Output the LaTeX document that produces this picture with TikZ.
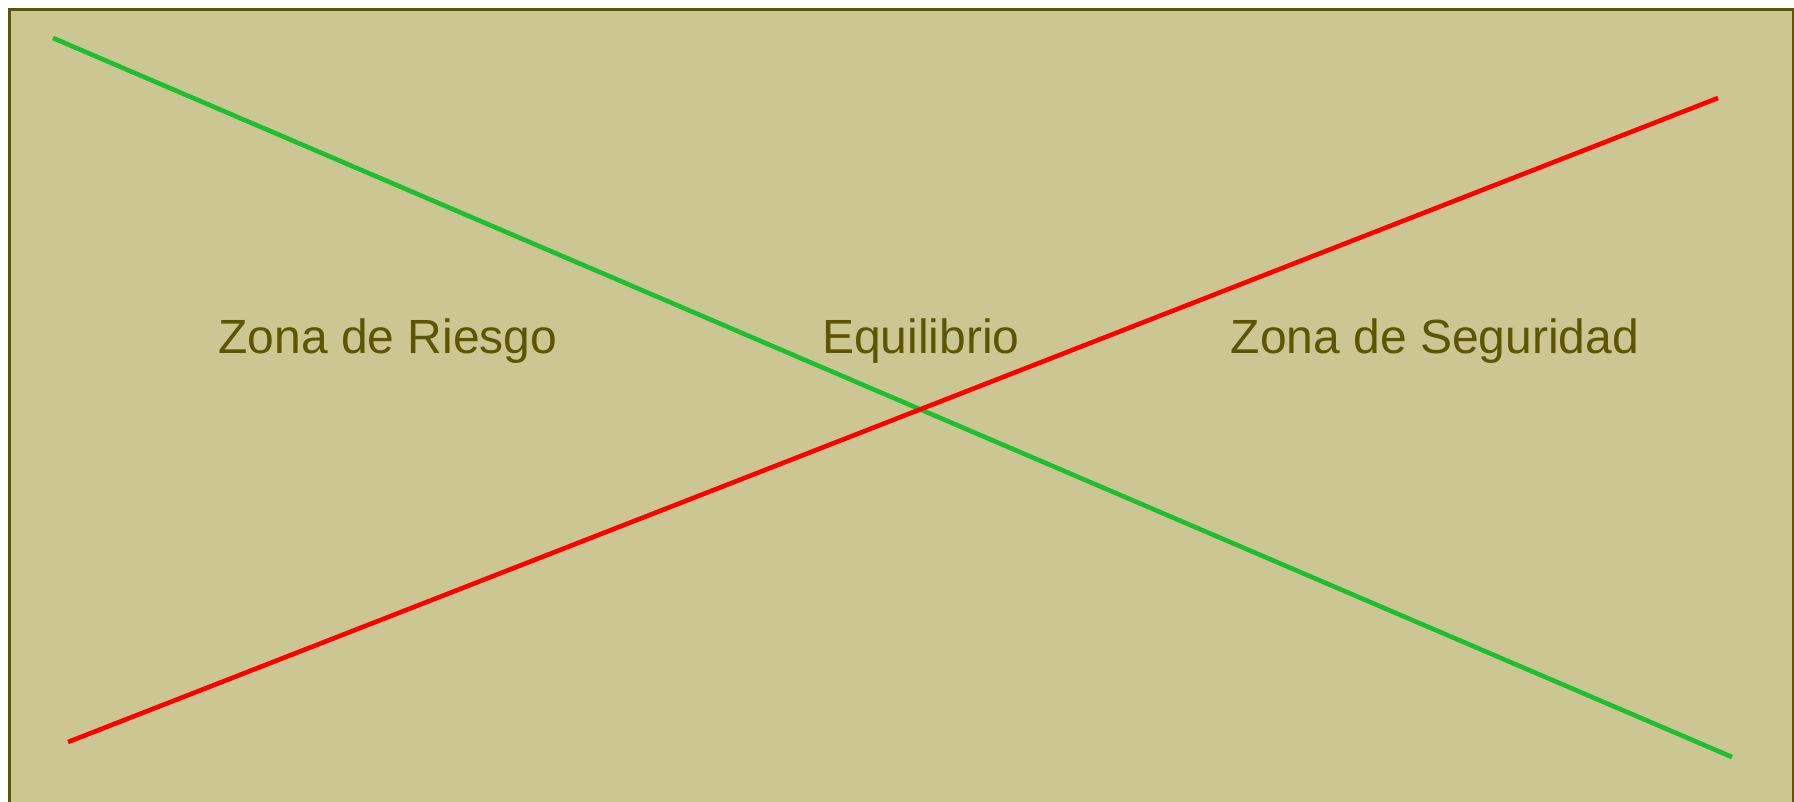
\documentclass[tikz,border=0pt]{standalone}
\usepackage{fontspec}
\setmainfont{Liberation Sans}
\definecolor{bgcol}{HTML}{CCC792}
\definecolor{olive}{HTML}{5C5600}
\definecolor{lgreen}{HTML}{1CBF2D}
\definecolor{lred}{HTML}{FF0000}
\begin{document}
\begin{tikzpicture}[x=1pt,y=-1pt,
  lbl/.style={anchor=base,text=olive,font=\fontsize{48}{56}\selectfont,inner sep=0pt},
  ln/.style={line width=4.6pt}]
\useasboundingbox (0,0) rectangle (1794,801);
\clip (0,0) rectangle (1794,801);
\node[draw=olive,line width=2.5pt,fill=bgcol,minimum width=1784pt,minimum height=810pt,anchor=north west,inner sep=0pt] (frame) at (8,8) {};
\coordinate (g1) at (53,38);
\coordinate (g2) at (1732,757);
\coordinate (r1) at (68,742);
\coordinate (r2) at (1718,98);
\draw[ln,lgreen] (g1) -- (g2);
\draw[ln,lred] (r1) -- (r2);
\node[lbl] (riesgo) at (388,353) {Zona de Riesgo};
\node[lbl] (equil) at (921,353) {Equilibrio};
\node[lbl] (seg) at (1435,353) {Zona de Seguridad};
\end{tikzpicture}
\end{document}
